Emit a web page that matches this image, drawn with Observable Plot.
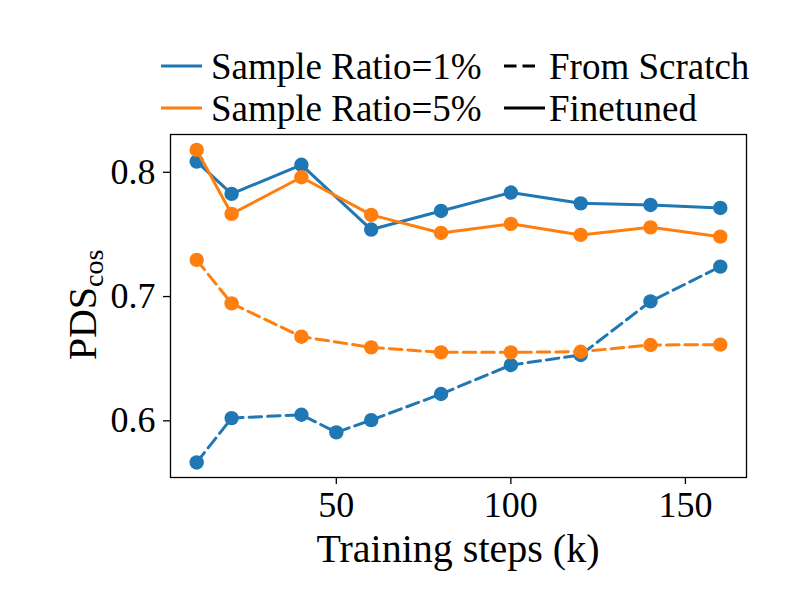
<!DOCTYPE html>
<html>
<head>
<meta charset="utf-8">
<script src="https://cdn.jsdelivr.net/npm/d3@7"></script>
<script src="https://cdn.jsdelivr.net/npm/@observablehq/plot@0.6"></script>
<style>
  html, body { margin: 0; padding: 0; background: white; }
  #chart { width: 792px; height: 616px; }
</style>
</head>
<body>
<div id="chart"></div>
<script>
const stepsScratch1 = [10, 20, 40, 50, 60, 80, 100, 120, 140, 160];
const scratch1 = [0.5665, 0.6022, 0.6049, 0.5907, 0.6006, 0.6216, 0.6449, 0.6530, 0.6961, 0.7241];
const stepsOther = [10, 20, 40, 60, 80, 100, 120, 140, 160];
const finetuned1 = [0.8086, 0.7826, 0.8060, 0.7539, 0.7689, 0.7837, 0.7750, 0.7737, 0.7713];
const scratch5 = [0.7295, 0.6945, 0.6677, 0.6591, 0.6551, 0.6551, 0.6556, 0.6610, 0.6613];
const finetuned5 = [0.8180, 0.7665, 0.7960, 0.7657, 0.7512, 0.7585, 0.7496, 0.7557, 0.7482];

const ratioLabels = ["Sample Ratio=1%", "Sample Ratio=5%"];
const modeLabels = ["From Scratch", "Finetuned"];
const colors = ["#1f77b4", "#ff7f0e"];
const xTicks = [50, 100, 150];
const yTicks = [0.6, 0.7, 0.8];
const xLabel = "Training steps (k)";
const yLabelMain = "PDS";
const yLabelSub = "cos";

const mk = (steps, vals, ratio, mode) => steps.map((s, i) => ({step: s, value: vals[i], ratio, mode}));
const series = [
  mk(stepsScratch1, scratch1, ratioLabels[0], modeLabels[0]),
  mk(stepsOther, finetuned1, ratioLabels[0], modeLabels[1]),
  mk(stepsOther, scratch5, ratioLabels[1], modeLabels[0]),
  mk(stepsOther, finetuned5, ratioLabels[1], modeLabels[1])
];

const FONT = "Liberation Serif, Times New Roman, serif";
const LW = 3;
const DASH = "12.5,6";

const marks = [Plot.frame({stroke: "black", strokeWidth: 1.3})];
for (const s of series) {
  marks.push(Plot.line(s, {x: "step", y: "value", stroke: "ratio", strokeWidth: LW,
    strokeDasharray: s[0].mode === modeLabels[0] ? DASH : null}));
  marks.push(Plot.dot(s, {x: "step", y: "value", fill: "ratio", r: 7.2, stroke: null}));
}
marks.push(Plot.axisX({ticks: xTicks, tickSize: 7, tickPadding: 7, fontSize: 36, label: null, strokeWidth: 1.3}));
marks.push(Plot.axisY({ticks: yTicks, tickSize: 7, tickPadding: 8, fontSize: 36, tickFormat: d3.format(".1f"), label: null, strokeWidth: 1.3}));

const chart = Plot.plot({
  width: 792, height: 616,
  marginLeft: 170, marginRight: 46, marginTop: 134, marginBottom: 139,
  x: {domain: [2.5, 167.5]},
  y: {domain: [0.5544, 0.8304]},
  color: {domain: ratioLabels, range: colors},
  style: {fontFamily: FONT, background: "white", color: "black", overflow: "visible"},
  marks
});
document.getElementById("chart").appendChild(chart);

const svg = d3.select(chart);
// x axis label
svg.append("text").attr("x", 458).attr("y", 562).attr("text-anchor", "middle")
  .attr("font-family", FONT).attr("font-size", 40).attr("fill", "black").text(xLabel);
// y axis label with subscript
const yl = svg.append("text").attr("transform", "translate(96,305) rotate(-90)")
  .attr("text-anchor", "middle").attr("font-family", FONT).attr("font-size", 40).attr("fill", "black");
yl.append("tspan").text(yLabelMain);
yl.append("tspan").attr("font-size", 28).attr("dy", 7).text(yLabelSub);

// legend
const leg = svg.append("g").attr("font-family", FONT).attr("font-size", 37).attr("fill", "black")
  .attr("text-anchor", "start");
const rows = [66, 108];
ratioLabels.forEach((lab, i) => {
  leg.append("line").attr("x1", 161).attr("x2", 202).attr("y1", rows[i]).attr("y2", rows[i])
    .attr("stroke", colors[i]).attr("stroke-width", LW);
  leg.append("text").attr("x", 211).attr("y", rows[i] + 13).text(lab);
});
modeLabels.forEach((lab, i) => {
  leg.append("line").attr("x1", 504).attr("x2", i === 0 ? 541 : 545).attr("y1", rows[i]).attr("y2", rows[i])
    .attr("stroke", "black").attr("stroke-width", LW)
    .attr("stroke-dasharray", i === 0 ? DASH : null);
  leg.append("text").attr("x", 549).attr("y", rows[i] + 13).text(lab);
});
</script>
</body>
</html>
